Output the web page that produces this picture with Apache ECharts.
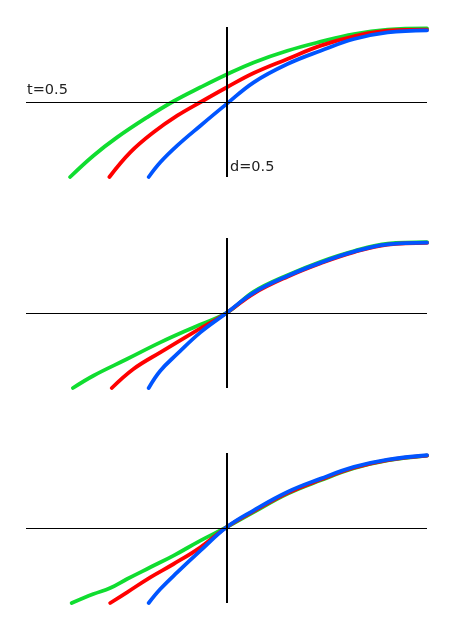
<!DOCTYPE html>
<html><head><meta charset="utf-8">
<script src="https://cdn.jsdelivr.net/npm/echarts@6/dist/echarts.min.js"></script>
<style>html,body{margin:0;padding:0;background:#fff}#c{width:451px;height:628px}</style>
</head><body><div id="c"></div>
<script>
// Panel 1
var p1Green = [[0.11,0],[0.168,0.142],[0.227,0.264],[0.302,0.398],[0.368,0.505],[0.435,0.598],[0.499,0.682],[0.568,0.764],[0.652,0.842],[0.735,0.902],[0.818,0.953],[0.902,0.982],[1.0,0.99]];
var p1Red = [[0.208,0],[0.26,0.164],[0.318,0.298],[0.377,0.409],[0.439,0.505],[0.499,0.595],[0.568,0.693],[0.652,0.787],[0.735,0.876],[0.818,0.938],[0.902,0.975],[1.0,0.982]];
var p1Blue = [[0.306,0],[0.335,0.098],[0.377,0.209],[0.435,0.342],[0.499,0.484],[0.568,0.631],[0.652,0.753],[0.735,0.842],[0.818,0.92],[0.902,0.964],[1.0,0.978]];
// Panel 2
var p2Green = [[0.117,0],[0.168,0.082],[0.252,0.193],[0.335,0.304],[0.418,0.404],[0.5,0.5],[0.568,0.642],[0.652,0.752],[0.735,0.842],[0.818,0.913],[0.902,0.962],[1.0,0.972]];
var p2Red = [[0.214,0],[0.268,0.127],[0.335,0.238],[0.418,0.371],[0.5,0.5],[0.568,0.63],[0.652,0.742],[0.735,0.832],[0.818,0.906],[0.902,0.956],[1.0,0.968]];
var p2Blue = [[0.306,0],[0.335,0.115],[0.377,0.227],[0.435,0.371],[0.5,0.5],[0.568,0.636],[0.652,0.747],[0.735,0.836],[0.818,0.909],[0.902,0.958],[1.0,0.969]];
// Panel 3
var p3Green = [[0.114,0],[0.168,0.06],[0.21,0.1],[0.252,0.16],[0.31,0.238],[0.368,0.316],[0.435,0.416],[0.5,0.505],[0.568,0.606],[0.652,0.728],[0.735,0.818],[0.818,0.898],[0.902,0.95],[1.0,0.983]];
var p3Red = [[0.21,0],[0.252,0.071],[0.31,0.171],[0.368,0.26],[0.435,0.371],[0.5,0.505],[0.568,0.612],[0.652,0.733],[0.735,0.823],[0.818,0.902],[0.902,0.953],[1.0,0.983]];
var p3Blue = [[0.306,0],[0.335,0.093],[0.377,0.204],[0.435,0.349],[0.5,0.505],[0.568,0.618],[0.652,0.74],[0.735,0.829],[0.818,0.907],[0.902,0.956],[1.0,0.985]];

var thresholdT = 0.5;
var thresholdD = 0.5;
var labelT = 't=0.5';
var labelD = 'd=0.5';

var panels = [[p1Green,p1Red,p1Blue],[p2Green,p2Red,p2Blue],[p3Green,p3Red,p3Blue]];
var colors = ['#10dd30','#ff0000','#0055ff'];
var tops = [27, 238, 453];

var grids = [], xAxes = [], yAxes = [], series = [];
panels.forEach(function(p, i){
  grids.push({left:26, width:401, top:tops[i], height:150});
  xAxes.push({type:'value', gridIndex:i, min:0, max:1, show:false});
  yAxes.push({type:'value', gridIndex:i, min:0, max:1, show:false});
  series.push({type:'line', xAxisIndex:i, yAxisIndex:i, data:[], z:1, silent:true,
    markLine:{symbol:'none', silent:true, animation:false, label:{show:false},
      lineStyle:{color:'#000', width:1, type:'solid'}, data:[{yAxis:thresholdT}]}});
  p.forEach(function(d, k){
    series.push({type:'line', xAxisIndex:i, yAxisIndex:i, data:d, showSymbol:false, smooth:0.4,
      z:2, lineStyle:{color:colors[k], width:3.8, cap:'round'}, itemStyle:{color:colors[k]}, animation:false});
  });
  series.push({type:'line', xAxisIndex:i, yAxisIndex:i, data:[], z:3, silent:true,
    markLine:{symbol:'none', silent:true, animation:false, label:{show:false},
      lineStyle:{color:'#000', width:2, type:'solid'}, data:[{xAxis:thresholdD}]}});
});

var chart = echarts.init(document.getElementById('c'), null, {renderer:'canvas'});
chart.setOption({
  animation:false,
  backgroundColor:'#fff',
  grid:grids, xAxis:xAxes, yAxis:yAxes, series:series,
  graphic:[
    {type:'text', left:27, top:83, style:{text:labelT, fill:'#222', font:'14.5px "DejaVu Sans"'}},
    {type:'text', left:230, top:160, style:{text:labelD, fill:'#222', font:'14.5px "DejaVu Sans"'}}
  ]
});
</script></body></html>
